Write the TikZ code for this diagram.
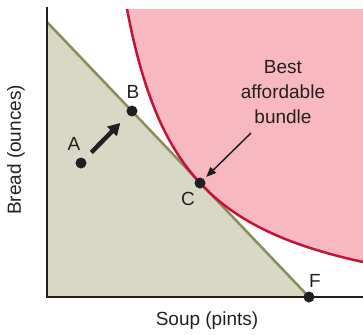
\documentclass[tikz,border=0pt]{standalone}
\usepackage{fontspec}
\setmainfont{Liberation Sans}
\usetikzlibrary{arrows.meta}
\definecolor{pinkfill}{RGB}{248,184,191}
\definecolor{curvered}{RGB}{196,18,58}
\definecolor{beige}{RGB}{217,216,196}
\definecolor{olive}{RGB}{136,142,88}
\definecolor{ink}{RGB}{35,31,32}
\begin{document}
\begin{tikzpicture}[x=1pt,y=-1pt,
  dot/.style={circle,fill=ink,inner sep=0pt,minimum size=11pt},
  lbl/.style={font=\fontsize{19}{25}\selectfont,text=ink,inner sep=0pt},
  axis/.style={line width=2.5pt,draw=ink},
]
\useasboundingbox (0,0) rectangle (363,334);
% pink region
\fill[pinkfill] (127,9) -- plot[domain=127:363,samples=80,smooth] (\x,{326.56-191.27/((\x-66.77)/100)}) -- (363,9) -- cycle;
% coordinates
\coordinate (O) at (47,297);
\coordinate (ytop) at (47,7);
\coordinate (xend) at (363,297);
\coordinate (btop) at (47,22);
\coordinate (Fp) at (309,297);
% beige budget set
\fill[beige] (btop) -- (Fp) -- (O) -- cycle;
\draw[olive,line width=2.5pt] (btop) -- (Fp);
% indifference curve
\draw[curvered,line width=2.5pt] plot[domain=127:363,samples=80,smooth] (\x,{326.56-191.27/((\x-66.77)/100)});
% axes
\draw[axis] (ytop) -- (O) -- (xend);
% dots
\node[dot] (A) at (81,163) {};
\node[dot] (B) at (132,111) {};
\node[dot] (C) at (200,183) {};
\node[dot] (F) at (309,297) {};
% labels
\node[lbl] (lA) at (74,144) {A};
\node[lbl] (lB) at (133,92) {B};
\node[lbl] (lC) at (188,199) {C};
\node[lbl] (lF) at (315,281) {F};
\node[lbl,align=center] (best) at (283,92) {Best\\affordable\\bundle};
\node[lbl,rotate=90] (ylab) at (16,150) {Bread (ounces)};
\node[lbl] (xlab) at (207,321) {Soup (pints)};
% arrows
\draw[ink,line width=4.5pt,-{Triangle[length=12pt,width=13pt]},shorten <=9pt,shorten >=11pt] (A) -- (B);
\coordinate (bstart) at (251,133);
\draw[ink,line width=1.5pt,-{Triangle[length=10pt,width=8pt]},shorten >=3pt] (bstart) -- (C);
\end{tikzpicture}
\end{document}
